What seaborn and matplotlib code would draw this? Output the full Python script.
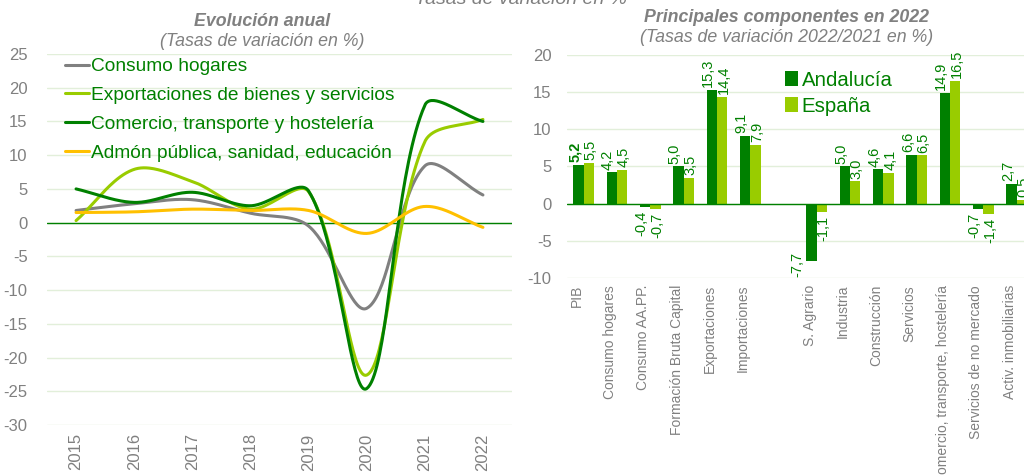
import numpy as np
import pandas as pd
import matplotlib.pyplot as plt
import matplotlib.transforms as mtransforms
import seaborn as sns

sns.set_theme(style="white")
plt.rcParams['font.family'] = ['Liberation Sans', 'DejaVu Sans']
plt.rcParams['axes.unicode_minus'] = False

# colours
DARK = "#008000"
LIGHT = "#99CC00"
GREY = "#808080"
YELLOW = "#FFC000"
GRID = "#E2EFDA"

# left chart: yearly evolution
years = ["2015", "2016", "2017", "2018", "2019", "2020", "2021", "2022"]
consumo_hogares = [1.8, 2.8, 3.4, 1.4, -0.5, -12.7, 8.4, 4.1]
exportaciones = [0.3, 7.9, 6.1, 2.0, 4.6, -22.6, 12.0, 15.3]
comercio = [5.0, 3.0, 4.5, 2.5, 4.7, -24.6, 17.4, 15.0]
admon = [1.5, 1.6, 2.0, 1.8, 1.8, -1.6, 2.4, -0.7]

series_names = ["Consumo hogares", "Exportaciones de bienes y servicios",
                "Comercio, transporte y hostelería", "Admón pública, sanidad, educación"]
series_colors = [GREY, LIGHT, DARK, YELLOW]

# right chart: components in 2022
components = ["PIB", "Consumo hogares", "Consumo AA.PP.", "Formación Bruta Capital",
              "Exportaciones", "Importaciones", " ", "S. Agrario", "Industria",
              "Construcción", "Servicios", "Comercio, transporte, hostelería",
              "Servicios de no mercado", "Activ. inmobiliarias"]
andalucia = [5.2, 4.2, -0.4, 5.0, 15.3, 9.1, np.nan, -7.7, 5.0, 4.6, 6.6, 14.9, -0.7, 2.7]
espana = [5.5, 4.5, -0.7, 3.5, 14.4, 7.9, np.nan, -1.1, 3.0, 4.1, 6.5, 16.5, -1.4, 0.5]


def smooth(vals, sx=58.1, sy=6.74, n=40):
    # excel-like smoothed line: bezier with chord-length scaled tangents (pixel space)
    p = np.column_stack([np.arange(len(vals)) * sx, np.array(vals) * sy]).astype(float)
    m = len(p)
    d = np.linalg.norm(np.diff(p, axis=0), axis=1)
    out = []
    t = np.linspace(0, 1, n, endpoint=False)[:, None]
    for i in range(m - 1):
        if i == 0:
            c1 = p[0] + (p[1] - p[0]) / 3
        else:
            c1 = p[i] + (p[i + 1] - p[i - 1]) * d[i] / (d[i - 1] + d[i]) / 3
        if i + 1 == m - 1:
            c2 = p[i + 1] - (p[i + 1] - p[i]) / 3
        else:
            c2 = p[i + 1] - (p[i + 2] - p[i]) * d[i] / (d[i] + d[i + 1]) / 3
        seg = ((1 - t) ** 3) * p[i] + 3 * ((1 - t) ** 2) * t * c1 + 3 * (1 - t) * t ** 2 * c2 + t ** 3 * p[i + 1]
        out.append(seg)
    out.append(p[-1][None])
    c = np.vstack(out)
    return c[:, 0] / sx, c[:, 1] / sy


fig = plt.figure(figsize=(10.24, 4.75), dpi=100)

# ---------- left chart ----------
ax1 = fig.add_axes([47 / 1024, 1 - 425 / 475, 465 / 1024, 371 / 475])
frames = []
for name, vals in zip(series_names, [consumo_hogares, exportaciones, comercio, admon]):
    cx, cy = smooth(vals)
    frames.append(pd.DataFrame({"x": cx, "y": cy, "serie": name}))
lines = pd.concat(frames, ignore_index=True)
sns.lineplot(data=lines, x="x", y="y", hue="serie", palette=series_colors,
             sort=False, estimator=None, linewidth=2.2, ax=ax1)
ax1.axhline(0, color=DARK, lw=1, zorder=1)
ax1.set_xlim(-0.5, 7.5)
ax1.set_ylim(-30, 25)
ax1.set_yticks(range(-30, 26, 5))
ax1.set_xticks(range(len(years)))
ax1.set_xticklabels(years, rotation=90)
ax1.yaxis.grid(True, color=GRID, lw=1)
ax1.set_axisbelow(True)
ax1.set_xlabel("")
ax1.set_ylabel("")
ax1.tick_params(axis="both", length=0, colors=GREY, labelsize=12)
ax1.tick_params(axis="y", pad=14)
ax1.tick_params(axis="x", pad=6)
for s in ax1.spines.values():
    s.set_visible(False)
ax1.legend(loc="upper left", bbox_to_anchor=(0.03, 1.0), frameon=False,
           fontsize=13.8, labelcolor=DARK, handlelength=1.25, handletextpad=0.1,
           labelspacing=0.6, borderpad=0.2, borderaxespad=0)

fig.text(262 / 1024, 1 - 21 / 475, "Evolución anual", ha="center", va="center",
         color=GREY, fontsize=12.8, fontweight="bold", style="italic")
fig.text(262 / 1024, 1 - 42 / 475, "(Tasas de variación en %)", ha="center", va="center",
         color=GREY, fontsize=12.8, style="italic")

# ---------- right chart ----------
ax2 = fig.add_axes([567 / 1024, 1 - 278 / 475, 457 / 1024, 223 / 475])
bars = pd.DataFrame({
    "comp": components * 2,
    "val": andalucia + espana,
    "region": ["Andalucía"] * len(components) + ["España"] * len(components),
})
sns.barplot(data=bars, x="comp", y="val", hue="region", order=components,
            palette=[DARK, LIGHT], width=0.62, saturation=1, linewidth=0, ax=ax2)
ax2.axhline(0, color=DARK, lw=1, zorder=3)
ax2.set_xlim(-0.5, 13.22)
ax2.set_ylim(-10, 20)
ax2.set_yticks(range(-10, 21, 5))
ax2.yaxis.grid(True, color=GRID, lw=1)
ax2.set_axisbelow(True)
ax2.set_xlabel("")
ax2.set_ylabel("")
ax2.tick_params(axis="x", length=0, colors=GREY, labelsize=10, rotation=90, pad=5)
ax2.tick_params(axis="y", length=0, colors=GREY, labelsize=12, pad=11)
shift = mtransforms.ScaledTranslation(-7 / 100, 0, fig.dpi_scale_trans)
for lab in ax2.get_xticklabels():
    lab.set_transform(lab.get_transform() + shift)
for s in ax2.spines.values():
    s.set_visible(False)

ymin = ax2.get_ylim()[0]
dx_lab = [-2.7, 1.2]  # andalucía labels lean left, españa labels lean right
for k, cont in enumerate(ax2.containers):
    for j, bar in enumerate(cont):
        h = bar.get_height()
        if np.isnan(h):
            continue
        xc = bar.get_x() + bar.get_width() / 2
        txt = f"{h:.1f}".replace(".", ",")
        bold = (k == 0 and j == 0)
        if h >= 0:
            ax2.annotate(txt, (xc, h), xytext=(dx_lab[k], 2), textcoords="offset points",
                         rotation=90, ha="center", va="bottom", color=DARK,
                         fontsize=10.5, fontweight="bold" if bold else "normal")
        elif h < -6:
            # no room below the bar: label sits beside it, on the plot floor
            ax2.annotate(txt, (bar.get_x(), ymin), xytext=(-1.5, 1), textcoords="offset points",
                         rotation=90, ha="right", va="bottom", color=DARK, fontsize=10.5)
        else:
            ax2.annotate(txt, (xc, h), xytext=(dx_lab[k], -3), textcoords="offset points",
                         rotation=90, ha="center", va="top", color=DARK, fontsize=10.5)

ax2.legend(loc="upper left", bbox_to_anchor=(0.478, 0.93), frameon=False,
           fontsize=14.7, labelcolor=DARK, handlelength=0.6, handleheight=0.7,
           handletextpad=0.2, labelspacing=0.35, borderpad=0, borderaxespad=0)

fig.text(787 / 1024, 1 - 17 / 475, "Principales componentes en 2022", ha="center",
         va="center", color=GREY, fontsize=12.8, fontweight="bold", style="italic")
fig.text(787 / 1024, 1 - 38 / 475, "(Tasas de variación 2022/2021 en %)", ha="center",
         va="center", color=GREY, fontsize=12.8, style="italic")

# clipped header at the very top
fig.text(521 / 1024, 1 - 4 / 475, "Tasas de variación en %", ha="center",
         va="baseline", color=GREY, fontsize=14, style="italic")

fig.savefig("out.png", dpi=100)
